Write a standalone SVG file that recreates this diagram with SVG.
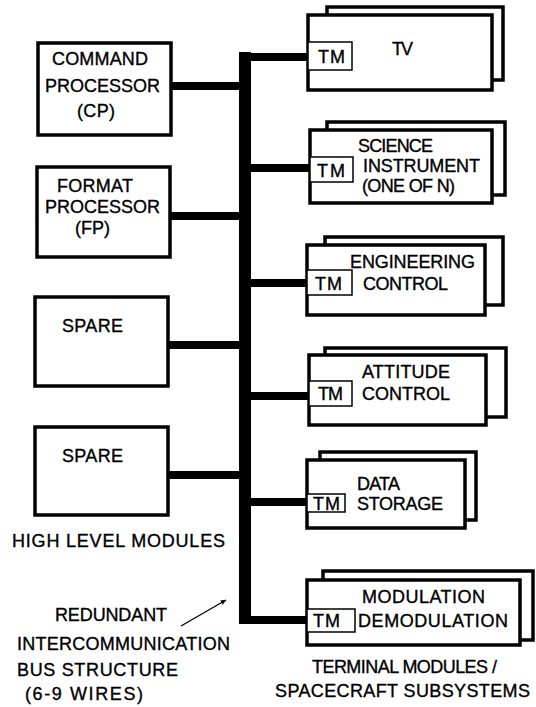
<svg xmlns="http://www.w3.org/2000/svg" width="536" height="707" viewBox="0 0 536 707">
<defs>
<marker id="ah" viewBox="0 0 10 10" refX="9" refY="5" markerWidth="6" markerHeight="6" orient="auto" markerUnits="userSpaceOnUse">
<path d="M0,1 L10,5 L0,9 z" fill="#000"/>
</marker>
</defs>
<style>
text{font-family:"Liberation Sans",Arial,Helvetica,sans-serif;font-size:18px;fill:#000;stroke:#000;stroke-width:0.35}
.box{fill:#fff;stroke:#000;stroke-width:3.5}
.tm{fill:#fff;stroke:#000;stroke-width:1.5}
.bus{fill:none;stroke:#000;stroke-width:12;stroke-linejoin:miter;stroke-linecap:butt}
.link{fill:none;stroke:#000;stroke-width:8}
.thin{fill:none;stroke:#000;stroke-width:1.3}
</style>
<rect width="536" height="707" fill="#fff"/>

<g id="connectors">
<line class="link" x1="171" y1="86" x2="245" y2="86"/>
<line class="link" x1="170" y1="216" x2="245" y2="216"/>
<line class="link" x1="168" y1="345" x2="245" y2="345"/>
<line class="link" x1="168" y1="475" x2="245" y2="475"/>
<path class="link" d="M309,57 H245"/>
<line class="link" x1="245" y1="168" x2="310" y2="168"/>
<line class="link" x1="245" y1="283" x2="307" y2="283"/>
<line class="link" x1="245" y1="396" x2="309" y2="396"/>
<line class="link" x1="245" y1="502" x2="307" y2="502"/>
<path class="link" d="M245,620 H307"/>
<path class="bus" d="M245,52 V624"/>
<line class="thin" x1="181" y1="626" x2="226" y2="600" marker-end="url(#ah)"/>
</g>

<g id="cp">
<rect class="box" x="38" y="43" width="133" height="92"/>
<text x="52" y="65" textLength="96">COMMAND</text>
<text x="45" y="92" textLength="115">PROCESSOR</text>
<text x="77" y="117" textLength="38">(CP)</text>
</g>
<g id="fp">
<rect class="box" x="37" y="167" width="133" height="90"/>
<text x="57" y="192" textLength="76">FORMAT</text>
<text x="45" y="213" textLength="115">PROCESSOR</text>
<text x="75" y="234" textLength="35">(FP)</text>
</g>
<g id="spare1">
<rect class="box" x="35" y="297" width="133" height="89"/>
<text x="62" y="332" textLength="61">SPARE</text>
</g>
<g id="spare2">
<rect class="box" x="35" y="427" width="133" height="88"/>
<text x="62" y="462" textLength="61">SPARE</text>
</g>

<g id="tv">
<rect class="box" x="327" y="7" width="176" height="73"/>
<rect class="box" x="308" y="15" width="184" height="75"/>
<rect class="tm" x="308" y="42" width="44" height="28"/>
<text x="318" y="63" textLength="27">TM</text>
<text x="392" y="55" textLength="21">TV</text>
</g>
<g id="science">
<rect class="box" x="327" y="122" width="178" height="73"/>
<rect class="box" x="310" y="130" width="182" height="73"/>
<rect class="tm" x="310" y="157" width="43" height="25"/>
<text x="317" y="177" textLength="28">TM</text>
<text x="358" y="152" textLength="75">SCIENCE</text>
<text x="363" y="172" textLength="117">INSTRUMENT</text>
<text x="362" y="192" textLength="93">(ONE OF N)</text>
</g>
<g id="engineering">
<rect class="box" x="325" y="237" width="178" height="68"/>
<rect class="box" x="307" y="245" width="178" height="70"/>
<rect class="tm" x="307" y="270" width="45" height="25"/>
<text x="315" y="290" textLength="27">TM</text>
<text x="350" y="268" textLength="125">ENGINEERING</text>
<text x="363" y="290" textLength="85">CONTROL</text>
</g>
<g id="attitude">
<rect class="box" x="325" y="348" width="181" height="69"/>
<rect class="box" x="309" y="355" width="177" height="70"/>
<rect class="tm" x="309" y="381" width="43" height="25"/>
<text x="318" y="400" textLength="25">TM</text>
<text x="362" y="378" textLength="88">ATTITUDE</text>
<text x="362" y="400" textLength="88">CONTROL</text>
</g>
<g id="datastorage">
<rect class="box" x="320" y="452" width="156" height="68"/>
<rect class="box" x="307" y="460" width="158" height="68"/>
<rect class="tm" x="307" y="494" width="38" height="18"/>
<text x="313" y="510" textLength="27">TM</text>
<text x="357" y="490" textLength="43">DATA</text>
<text x="357" y="510" textLength="86">STORAGE</text>
</g>
<g id="modulation">
<rect class="box" x="323" y="571" width="210" height="69"/>
<rect class="box" x="307" y="580" width="213" height="65"/>
<rect class="tm" x="307" y="609" width="48" height="23"/>
<text x="313" y="627" textLength="27">TM</text>
<text x="362" y="603" textLength="123">MODULATION</text>
<text x="358" y="627" textLength="150">DEMODULATION</text>
</g>

<g id="labels">
<text x="12" y="547" textLength="213">HIGH LEVEL MODULES</text>
<text x="55" y="621" textLength="112">REDUNDANT</text>
<text x="17" y="650" textLength="213">INTERCOMMUNICATION</text>
<text x="17" y="676" textLength="161">BUS STRUCTURE</text>
<text x="25" y="700" textLength="118">(6-9 WIRES)</text>
<text x="312" y="673" textLength="185">TERMINAL MODULES /</text>
<text x="275" y="697" textLength="255">SPACECRAFT SUBSYSTEMS</text>
</g>
</svg>
